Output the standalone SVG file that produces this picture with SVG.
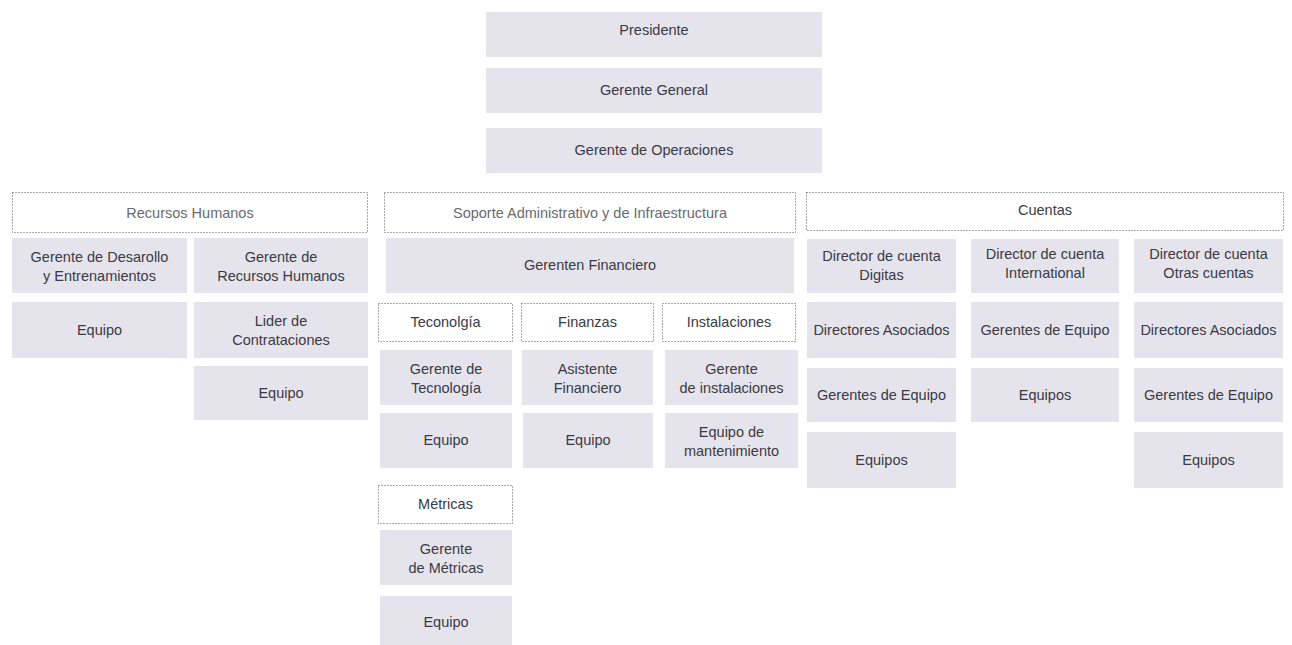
<svg xmlns="http://www.w3.org/2000/svg" width="1292" height="645" viewBox="0 0 1292 645">
<style>
.b{fill:#e5e4ed}
.h{fill:#ffffff;stroke:#555;stroke-width:1;stroke-dasharray:1 2}
text{font-family:"Liberation Sans",Arial,sans-serif;font-size:14.5px;fill:#3a3a44;text-anchor:middle}
.ht{fill:#6a6a70}
</style>
<rect width="1292" height="645" fill="#ffffff"/>
<g id="connectors"></g>
<g id="presidente"><rect class="b" x="486" y="12" width="336" height="45"/><text x="654" y="35">Presidente</text></g>
<g id="gerente-general"><rect class="b" x="486" y="68" width="336" height="45"/><text x="654" y="95">Gerente General</text></g>
<g id="gerente-operaciones"><rect class="b" x="486" y="128" width="336" height="45"/><text x="654" y="155">Gerente de Operaciones</text></g>

<g id="recursos-humanos"><rect class="h" x="12.5" y="192.5" width="355" height="40"/><text class="ht" x="190" y="218">Recursos Humanos</text></g>
<g id="gerente-desarollo"><rect class="b" x="12" y="238" width="175" height="55"/><text x="99.5" y="262">Gerente de Desarollo</text><text x="99.5" y="281">y Entrenamientos</text></g>
<g id="equipo-rh1"><rect class="b" x="12" y="302" width="175" height="56"/><text x="99.5" y="335">Equipo</text></g>
<g id="gerente-rh"><rect class="b" x="194" y="238" width="174" height="55"/><text x="281" y="262">Gerente de</text><text x="281" y="281">Recursos Humanos</text></g>
<g id="lider-contrataciones"><rect class="b" x="194" y="302" width="174" height="56"/><text x="281" y="326">Lider de</text><text x="281" y="345">Contrataciones</text></g>
<g id="equipo-rh2"><rect class="b" x="194" y="366" width="174" height="54"/><text x="281" y="398">Equipo</text></g>

<g id="soporte"><rect class="h" x="384.5" y="192.5" width="411" height="40"/><text class="ht" x="590" y="218">Soporte Administrativo y de Infraestructura</text></g>
<g id="gerenten-financiero"><rect class="b" x="386" y="238" width="408" height="55"/><text x="590" y="270">Gerenten Financiero</text></g>
<g id="teconolgia"><rect class="h" x="378.5" y="303.5" width="134" height="38"/><text x="445.5" y="327">Teconolgía</text></g>
<g id="finanzas"><rect class="h" x="521.5" y="303.5" width="132" height="38"/><text x="587.5" y="327">Finanzas</text></g>
<g id="instalaciones"><rect class="h" x="662.5" y="303.5" width="133" height="38"/><text x="729" y="327">Instalaciones</text></g>
<g id="gerente-tecnologia"><rect class="b" x="380" y="350" width="132" height="55"/><text x="446" y="374">Gerente de</text><text x="446" y="393">Tecnología</text></g>
<g id="equipo-tec"><rect class="b" x="380" y="413" width="132" height="55"/><text x="446" y="445">Equipo</text></g>
<g id="asistente-financiero"><rect class="b" x="522" y="350" width="131" height="55"/><text x="587.5" y="374">Asistente</text><text x="587.5" y="393">Financiero</text></g>
<g id="equipo-fin"><rect class="b" x="523" y="413" width="130" height="55"/><text x="588" y="445">Equipo</text></g>
<g id="gerente-instalaciones"><rect class="b" x="665" y="350" width="133" height="55"/><text x="731.5" y="374">Gerente</text><text x="731.5" y="393">de instalaciones</text></g>
<g id="equipo-mantenimiento"><rect class="b" x="665" y="413" width="133" height="55"/><text x="731.5" y="437">Equipo de</text><text x="731.5" y="456">mantenimiento</text></g>
<g id="metricas"><rect class="h" x="378.5" y="485.5" width="134" height="38"/><text x="445.5" y="509">Métricas</text></g>
<g id="gerente-metricas"><rect class="b" x="380" y="530" width="132" height="55"/><text x="446" y="554">Gerente</text><text x="446" y="573">de Métricas</text></g>
<g id="equipo-met"><rect class="b" x="380" y="596" width="132" height="49"/><text x="446" y="627">Equipo</text></g>

<g id="cuentas"><rect class="h" x="806.5" y="192.5" width="477" height="38"/><text x="1045" y="215">Cuentas</text></g>
<g id="director-digitas"><rect class="b" x="807" y="239" width="149" height="54"/><text x="881.5" y="261">Director de cuenta</text><text x="881.5" y="280">Digitas</text></g>
<g id="directores-asociados-1"><rect class="b" x="807" y="302" width="149" height="56"/><text x="881.5" y="335">Directores Asociados</text></g>
<g id="gerentes-equipo-1"><rect class="b" x="807" y="368" width="149" height="54"/><text x="881.5" y="400">Gerentes de Equipo</text></g>
<g id="equipos-1"><rect class="b" x="807" y="432" width="149" height="56"/><text x="881.5" y="465">Equipos</text></g>
<g id="director-international"><rect class="b" x="971" y="239" width="148" height="54"/><text x="1045" y="259">Director de cuenta</text><text x="1045" y="278">International</text></g>
<g id="gerentes-equipo-2"><rect class="b" x="971" y="302" width="148" height="56"/><text x="1045" y="335">Gerentes de Equipo</text></g>
<g id="equipos-2"><rect class="b" x="971" y="368" width="148" height="54"/><text x="1045" y="400">Equipos</text></g>
<g id="director-otras"><rect class="b" x="1134" y="239" width="149" height="54"/><text x="1208.5" y="259">Director de cuenta</text><text x="1208.5" y="278">Otras cuentas</text></g>
<g id="directores-asociados-3"><rect class="b" x="1134" y="302" width="149" height="56"/><text x="1208.5" y="335">Directores Asociados</text></g>
<g id="gerentes-equipo-3"><rect class="b" x="1134" y="368" width="149" height="54"/><text x="1208.5" y="400">Gerentes de Equipo</text></g>
<g id="equipos-3"><rect class="b" x="1134" y="432" width="149" height="56"/><text x="1208.5" y="465">Equipos</text></g>
</svg>
